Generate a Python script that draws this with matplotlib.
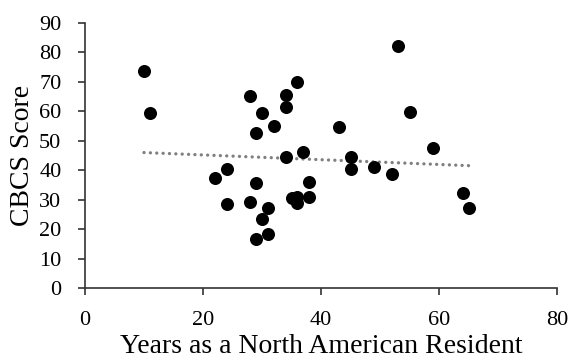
import numpy as np
import matplotlib
matplotlib.use("Agg")
import matplotlib.pyplot as plt

years = [10, 11, 22, 24, 24, 28, 28, 29, 29, 29, 30, 30, 31, 31, 32, 34, 34, 34,
         35, 36, 36, 36, 37, 38, 38, 43, 45, 45, 49, 52, 53, 55, 59, 64, 65]
scores = [73.5, 59.5, 37.3, 40.4, 28.6, 65.0, 29.1, 52.7, 35.6, 16.6, 59.5, 23.4,
          27.3, 18.4, 55.0, 65.5, 61.5, 44.5, 30.5, 69.8, 31.0, 29.0, 46.3, 36.0,
          31.0, 54.5, 44.5, 40.4, 41.2, 38.7, 82.0, 59.6, 47.6, 32.4, 27.3]
x_ticks = [0, 20, 40, 60, 80]
y_ticks = [0, 10, 20, 30, 40, 50, 60, 70, 80, 90]
x_label = "Years as a North American Resident"
y_label = "CBCS Score"

plt.rcParams['font.family'] = ['Liberation Serif', 'DejaVu Serif']

fig = plt.figure(figsize=(5.69, 3.64), dpi=100)
ax = fig.add_axes([0.1494, 0.208, 0.8296, 0.7296])

x = np.array(years, dtype=float)
y = np.array(scores, dtype=float)
ax.scatter(x, y, s=88, color='black', zorder=3, linewidths=0)

m, b = np.polyfit(x, y, 1)
xs = np.array([x.min(), x.max()])
ax.plot(xs, m * xs + b, color='#808080', linewidth=2.4,
        linestyle=(0, (0.01, 1.9)), dash_capstyle='round', zorder=2)

ax.set_xlim(0, 80)
ax.set_ylim(0, 90)
ax.set_xticks(x_ticks)
ax.set_yticks(y_ticks)
for s in ['top', 'right']:
    ax.spines[s].set_visible(False)
for s in ['left', 'bottom']:
    ax.spines[s].set_color('#333333')
    ax.spines[s].set_linewidth(1.2)
ax.tick_params(axis='both', direction='out', length=5, width=1.2,
               color='#333333', labelsize=16, labelcolor='black')
ax.tick_params(axis='x', pad=11)
ax.tick_params(axis='y', pad=12)
ax.set_xlabel(x_label, fontsize=20, labelpad=3)
ax.set_ylabel(y_label, fontsize=20, labelpad=3)

fig.savefig("out.png", dpi=100)
